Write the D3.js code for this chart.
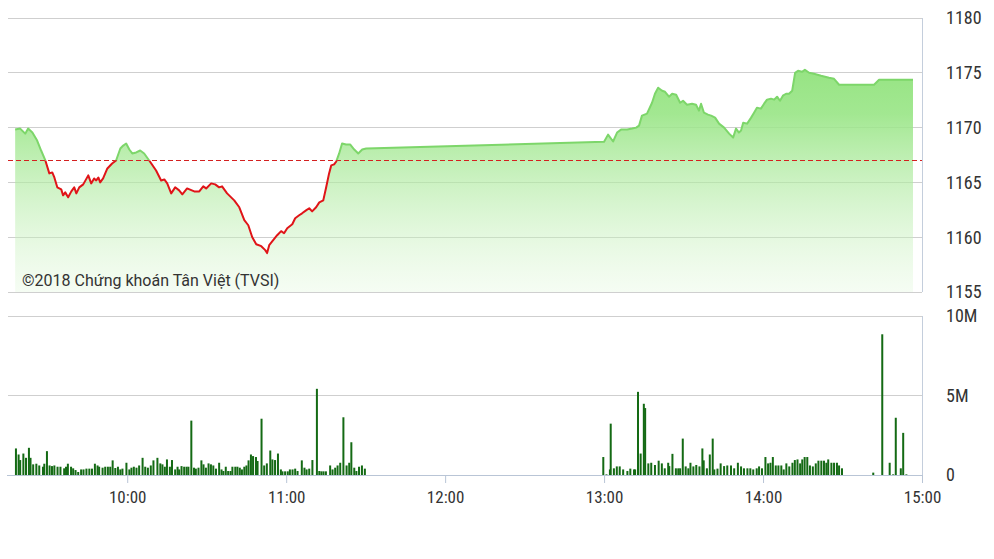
<!DOCTYPE html>
<html><head><meta charset="utf-8">
<script src="https://cdn.jsdelivr.net/npm/d3@7"></script>
<style>
html,body{margin:0;padding:0;background:#fff;}
svg{display:block;}
</style></head>
<body><svg id="c" width="994" height="559"></svg>
<script>
// times are minutes since midnight
const priceTimes = [557.7,559.6,561.5,562.6,564.2,566.0,567.5,569.1,570.6,571.7,572.5,573.6,575.1,575.8,576.6,577.7,578.9,580.0,580.8,581.9,583.4,585.3,586.4,587.5,588.3,589.1,589.8,590.9,592.5,594.3,595.8,597.4,598.5,599.6,600.8,601.9,603.4,604.9,606.4,608.3,610.9,612.8,614.0,615.1,616.6,618.1,619.6,620.8,622.6,625.3,627.2,628.7,629.8,631.7,633.2,634.7,635.8,637.7,640.4,642.3,644.2,645.7,647.2,648.7,650.6,652.1,652.8,653.6,655.1,656.6,658.1,659.2,660.4,662.3,663.4,664.9,666.0,667.5,668.7,669.8,671.3,672.5,674.0,675.1,676.2,677.0,678.1,678.9,680.0,681.1,682.6,684.2,685.7,687.2,688.7,690.2,780.0,781.5,783.4,784.9,786.4,788.7,790.6,792.1,793.2,794.3,796.2,798.1,799.2,800.4,801.9,803.0,804.5,805.7,807.2,808.7,809.8,811.3,813.2,814.7,815.8,816.6,817.7,819.2,820.4,821.9,823.4,825.3,827.2,828.7,829.8,830.9,831.7,832.5,834.0,835.5,836.6,837.7,839.2,840.4,841.5,843.0,844.2,845.3,846.4,847.5,848.7,849.8,851.0,852.1,853.2,854.7,855.8,857.4,859.2,861.9,864.9,866.8,868.7,881.9,883.8,896.6];
const priceValues = [1169.82,1169.91,1169.45,1169.91,1169.55,1168.82,1167.91,1167.0,1165.82,1165.91,1165.45,1164.55,1164.36,1163.82,1164.09,1163.64,1164.18,1164.55,1164.0,1164.55,1164.82,1165.64,1164.91,1165.36,1165.18,1165.45,1165.0,1165.36,1166.27,1166.73,1167.0,1168.09,1168.36,1168.55,1168.0,1167.64,1167.73,1167.91,1167.64,1167.0,1166.09,1165.18,1165.27,1164.91,1164.0,1164.55,1164.27,1163.91,1164.45,1164.18,1164.18,1164.64,1164.45,1164.91,1164.82,1164.55,1164.64,1164.0,1163.36,1162.73,1161.55,1161.09,1160.0,1159.36,1159.18,1158.82,1158.55,1159.27,1159.73,1160.18,1160.55,1160.36,1160.82,1161.18,1161.73,1162.0,1162.18,1162.45,1162.64,1162.36,1162.73,1163.18,1163.36,1164.55,1165.82,1166.55,1166.64,1166.91,1167.64,1168.55,1168.45,1168.45,1168.0,1167.64,1168.0,1168.09,1168.7,1169.36,1168.73,1169.55,1169.82,1169.82,1169.91,1170.0,1170.18,1171.09,1171.27,1172.27,1173.09,1173.64,1173.36,1173.27,1172.82,1173.09,1173.0,1172.27,1172.45,1172.09,1172.18,1172.09,1171.55,1172.18,1171.36,1171.18,1171.09,1170.91,1170.36,1170.0,1169.45,1169.09,1169.91,1169.55,1169.73,1170.45,1170.36,1170.91,1171.36,1171.82,1171.73,1172.18,1172.55,1172.64,1172.55,1172.82,1172.45,1172.91,1173.09,1173.09,1173.36,1175.0,1175.18,1175.09,1175.27,1175.0,1174.91,1174.73,1174.55,1174.45,1173.91,1173.91,1174.36,1174.36];
const refPrice = 1167;

const volTimes = [558.0,559.0,559.6,560.8,561.8,562.9,563.5,564.5,565.7,566.8,568.2,568.7,569.7,570.7,571.6,572.5,573.7,574.8,576.2,576.9,577.6,578.8,579.6,580.5,581.5,582.6,583.5,584.6,585.7,586.7,587.8,588.8,589.4,590.7,591.7,592.7,593.6,594.5,595.5,596.5,597.4,598.2,599.7,600.8,601.6,602.5,603.5,604.5,605.8,606.8,607.8,608.9,609.9,611.4,612.5,613.3,614.2,615.0,616.1,616.9,618.1,619.0,619.6,620.5,621.5,622.4,623.1,624.2,625.2,625.9,626.9,628.0,628.8,629.7,630.7,631.6,632.5,633.5,634.7,635.6,636.3,637.2,638.1,639.0,639.7,640.8,641.6,642.5,643.3,644.2,645.0,645.8,646.7,647.5,648.6,649.2,650.7,651.7,652.7,654.0,654.8,655.8,656.9,658.0,658.6,659.6,660.6,661.4,662.4,663.4,664.3,665.9,666.9,667.7,668.7,669.9,671.6,672.5,673.3,674.1,675.0,676.6,677.5,678.5,679.4,680.4,681.6,682.8,683.8,684.6,685.7,686.5,687.5,688.6,689.7,
779.7,780.9,782.2,782.5,783.7,784.8,785.9,787.2,788.8,789.9,791.3,791.7,792.8,793.8,795.0,795.5,796.7,797.8,799.2,800.6,801.8,802.9,804.2,804.6,805.8,807.1,808.0,808.7,809.7,810.8,811.8,812.6,813.7,814.8,816.0,817.1,817.6,818.8,819.9,821.0,821.6,822.8,824.0,825.3,826.5,827.9,829.1,830.5,831.7,832.8,834.1,835.2,836.3,837.6,838.5,839.6,840.9,841.9,842.8,843.7,844.8,845.8,846.9,847.8,848.8,849.9,851.1,852.0,853.0,854.0,854.8,855.7,856.7,857.7,858.8,859.9,860.9,862.0,863.0,863.9,864.6,865.8,866.8,867.9,868.7,869.8,881.6,885.0,887.8,889.1,890.1,892.0,892.9,894.1];
// volume in millions
const volValues = [1.67,1.29,0.94,1.35,1.08,1.71,1.08,0.67,0.71,0.60,0.52,0.71,1.5,0.60,0.56,0.60,0.52,0.52,0.42,0.52,0.71,0.52,0.42,0.31,0.19,0.35,0.35,0.40,0.40,0.40,0.71,0.60,0.52,0.46,0.52,0.52,0.52,0.92,0.44,0.52,0.35,0.40,0.77,0.35,0.46,0.52,0.46,0.60,1.08,0.52,0.46,0.60,0.92,1.08,0.73,0.67,0.52,0.98,0.52,0.94,0.35,0.52,0.35,0.56,0.52,0.52,0.52,3.42,0.46,0.40,0.46,0.92,0.67,0.46,0.73,0.67,0.60,0.40,0.77,0.35,0.25,0.52,0.25,0.25,0.52,0.52,0.52,0.46,0.35,0.52,0.60,0.92,1.29,1.19,1.13,0.88,3.54,0.60,0.73,1.54,0.98,0.94,1.35,0.35,0.23,0.23,0.23,0.35,0.35,0.40,0.25,0.92,0.46,0.35,0.40,0.94,5.42,0.25,0.23,0.23,0.23,0.60,0.35,0.46,0.60,0.77,3.63,0.60,0.77,2.06,0.46,0.25,0.52,0.60,0.40,
1.13,0.04,0.35,3.23,0.42,0.54,0.54,0.35,0.25,0.40,0.35,0.35,5.23,1.35,4.48,4.21,0.73,0.77,0.63,0.90,0.73,0.42,0.77,0.56,1.33,0.42,0.42,0.42,2.29,0.54,0.42,0.77,0.54,0.63,0.54,1.67,0.92,0.42,1.29,2.29,0.35,0.40,0.73,0.56,0.60,0.60,0.42,0.77,0.54,0.42,0.42,0.42,0.35,0.42,0.54,0.42,1.13,0.73,0.77,1.13,0.60,0.60,0.60,0.35,0.73,0.54,0.77,0.94,0.98,0.73,0.98,1.13,1.13,0.60,0.54,0.73,0.90,0.90,0.90,0.77,0.98,0.77,0.77,0.77,0.60,0.42,0.15,8.85,0.77,0.04,3.60,0.42,2.65,0.04];

const timeTicks = [600,660,720,780,840,900];
const timeTickLabels = ["10:00","11:00","12:00","13:00","14:00","15:00"];
const priceTicks = [1155,1160,1165,1170,1175,1180];
const volTicks = [0,5,10];
const volTickLabels = ["0","5M","10M"];
const copyright = "©2018 Chứng khoán Tân Việt (TVSI)";

const svg = d3.select("#c");
const x = d3.scaleLinear().domain([555, 900]).range([8, 922]);
const yP = d3.scaleLinear().domain([1155, 1180]).range([292, 18]);
const yV = d3.scaleLinear().domain([0, 10]).range([475, 316]);
const axisFont = "'Liberation Sans Narrow','Arial Narrow','Roboto Condensed',Roboto,sans-serif";

const defs = svg.append("defs");
const grad = defs.append("linearGradient").attr("id","g").attr("gradientUnits","userSpaceOnUse")
  .attr("x1",0).attr("x2",0).attr("y1",yP(1180)).attr("y2",yP(1155));
grad.append("stop").attr("offset",0).attr("stop-color","#88df72").attr("stop-opacity",1);
grad.append("stop").attr("offset",0.35).attr("stop-color","#98e585").attr("stop-opacity",0.9);
grad.append("stop").attr("offset",1).attr("stop-color","#d8f5d0").attr("stop-opacity",0.25);
defs.append("clipPath").attr("id","above").append("rect")
  .attr("x",0).attr("y",0).attr("width",994).attr("height",yP(refPrice));
defs.append("clipPath").attr("id","below").append("rect")
  .attr("x",0).attr("y",yP(refPrice)).attr("width",994).attr("height",559);

// price gridlines
svg.append("g").selectAll("line").data(priceTicks).join("line")
  .attr("x1",8).attr("x2",922).attr("y1",d=>yP(d)).attr("y2",d=>yP(d))
  .attr("stroke","#cfcfcf").attr("stroke-width",1).attr("shape-rendering","crispEdges");
svg.append("line").attr("x1",922).attr("x2",922).attr("y1",yP(1180)).attr("y2",yP(1155))
  .attr("stroke","#c4cedc").attr("shape-rendering","crispEdges");

const pts = priceTimes.map((t,i)=>[t, priceValues[i]]);
const area = d3.area().x(d=>x(d[0])).y0(yP(1155)).y1(d=>yP(d[1]));
const line = d3.line().x(d=>x(d[0])).y(d=>yP(d[1]));
svg.append("path").attr("d",area(pts)).attr("fill","url(#g)");

// copyright
svg.append("text").attr("x",22).attr("y",286).text(copyright)
  .attr("font-family","Roboto,sans-serif").attr("font-size",16).attr("fill","#333");

// reference line
svg.append("line").attr("x1",8).attr("x2",922).attr("y1",yP(refPrice)).attr("y2",yP(refPrice))
  .attr("stroke","#d42020").attr("stroke-width",1).attr("stroke-dasharray","5,3").attr("shape-rendering","crispEdges");

svg.append("path").attr("d",line(pts)).attr("fill","none").attr("stroke","#7dd66a")
  .attr("stroke-width",2).attr("stroke-linejoin","round").attr("clip-path","url(#above)");
svg.append("path").attr("d",line(pts)).attr("fill","none").attr("stroke","#e01418")
  .attr("stroke-width",2).attr("stroke-linejoin","round").attr("clip-path","url(#below)");

// price labels
svg.append("g").selectAll("text").data(priceTicks).join("text")
  .attr("x",946).attr("y",d=>yP(d)).attr("dy","0.36em").text(d=>d)
  .attr("font-family",axisFont).attr("font-size",18).attr("fill","#333");

// volume panel
svg.append("g").selectAll("line").data(volTicks.filter(d=>d>0)).join("line")
  .attr("x1",8).attr("x2",922).attr("y1",d=>yV(d)).attr("y2",d=>yV(d))
  .attr("stroke","#cfcfcf").attr("shape-rendering","crispEdges");
svg.append("line").attr("x1",922).attr("x2",922).attr("y1",yV(10)).attr("y2",yV(0))
  .attr("stroke","#c4cedc").attr("shape-rendering","crispEdges");

svg.append("g").selectAll("rect").data(volTimes.map((t,i)=>[t,volValues[i]])).join("rect")
  .attr("x",d=>x(d[0])-1).attr("width",2)
  .attr("y",d=>yV(d[1])).attr("height",d=>yV(0)-yV(d[1]))
  .attr("fill","#146a14");

// x axis
const xAxis = d3.axisBottom(x).tickValues(timeTicks).tickSize(8).tickSizeOuter(0)
  .tickFormat((d,i)=>timeTickLabels[i]);
const gx = svg.append("g").attr("transform",`translate(0,${yV(0)})`).call(xAxis);
gx.select(".domain").attr("stroke","#b9c5d6").attr("d",`M7,0.5H922`);
gx.selectAll(".tick line").attr("stroke","#b9c5d6");
gx.selectAll(".tick text").attr("y",22).attr("dy","0.36em")
  .attr("font-family",axisFont).attr("font-size",17).attr("fill","#333");

svg.append("g").selectAll("text").data(volTicks).join("text")
  .attr("x",946).attr("y",d=>yV(d)).attr("dy","0.36em").text((d,i)=>volTickLabels[i])
  .attr("font-family",axisFont).attr("font-size",18).attr("fill","#333");
</script></body></html>
